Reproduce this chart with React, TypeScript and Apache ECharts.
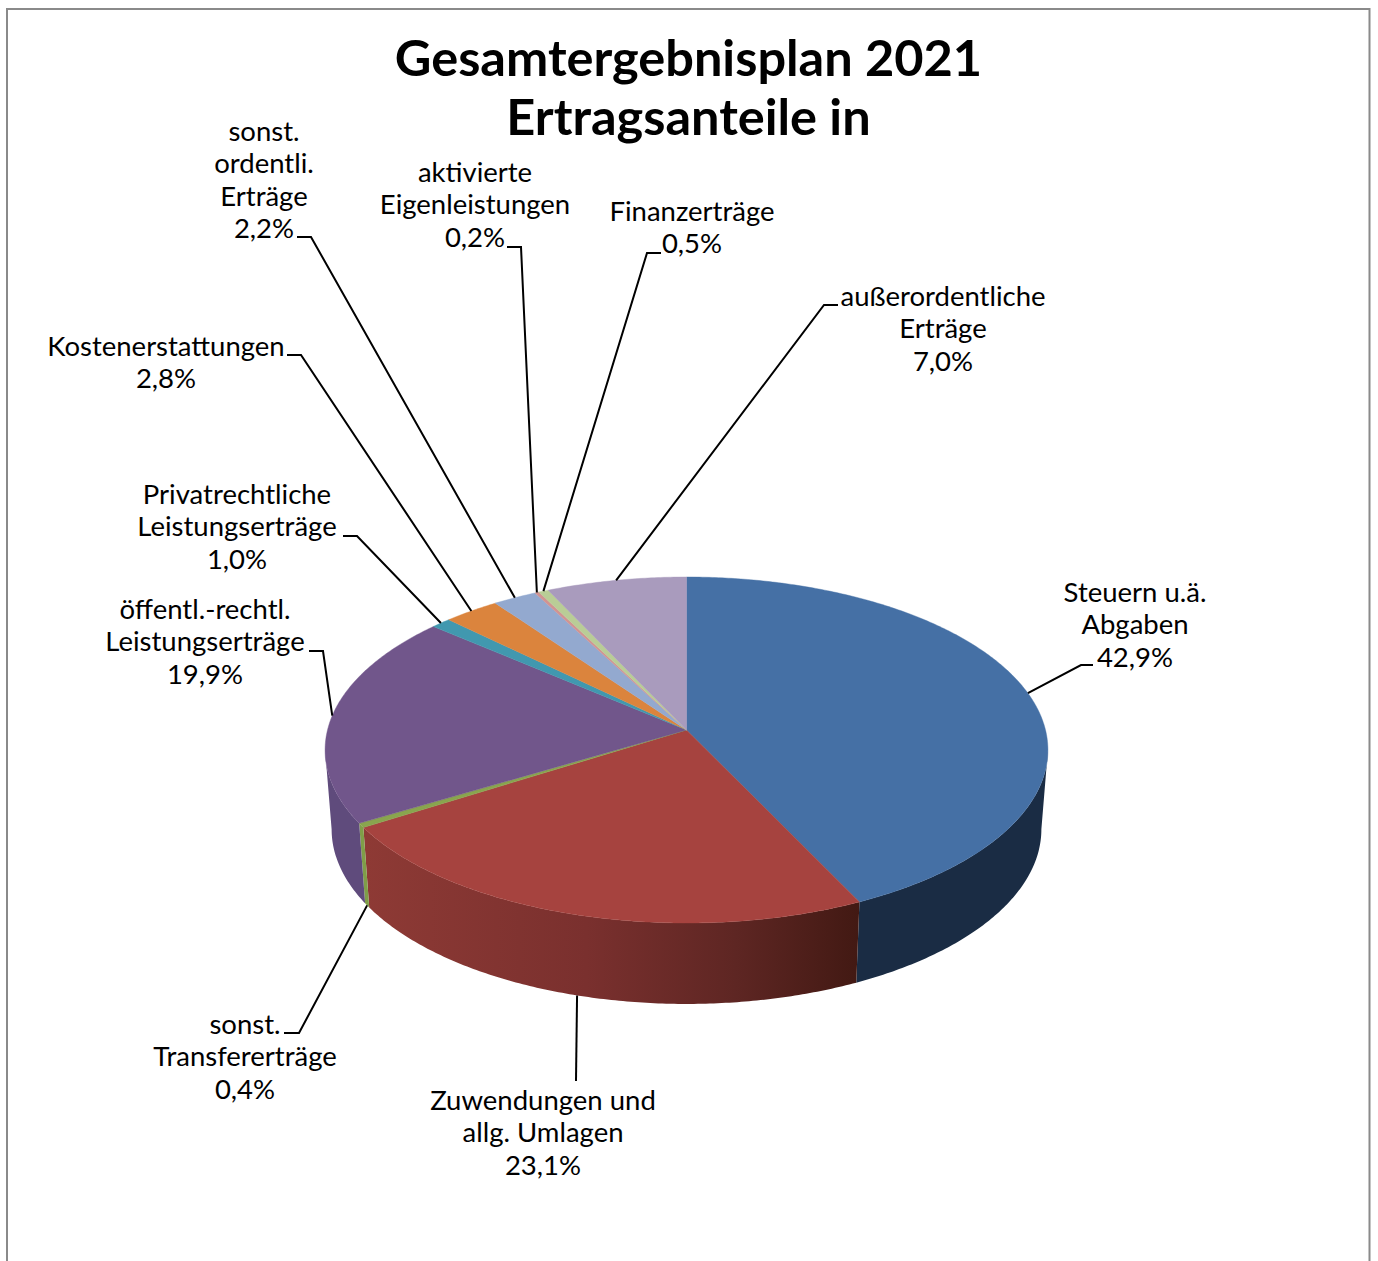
import React, { useEffect, useRef } from "react";
import * as echarts from "echarts";

const titleText = "Gesamtergebnisplan 2021\nErtragsanteile in";
const categories = [
  "Steuern u.ä.\nAbgaben",
  "Zuwendungen und\nallg. Umlagen",
  "sonst.\nTransfererträge",
  "öffentl.-rechtl.\nLeistungserträge",
  "Privatrechtliche\nLeistungserträge",
  "Kostenerstattungen",
  "sonst.\nordentli.\nErträge",
  "aktivierte\nEigenleistungen",
  "Finanzerträge",
  "außerordentliche\nErträge",
];
const shares = [42.9, 23.1, 0.4, 19.9, 1.0, 2.8, 2.2, 0.2, 0.5, 7.0];

const topColors = [
  "#4570A5", "#A6433F", "#89A54E", "#71568B", "#4198AF",
  "#DB843D", "#93A9CF", "#D19392", "#B9CD96", "#A99BBD",
];
const sideFills: Record<number, any> = {
  0: "#1A2C44",
  1: new echarts.graphic.LinearGradient(0, 0, 1, 0, [
    { offset: 0, color: "#8E3A35" },
    { offset: 0.45, color: "#7A302E" },
    { offset: 0.75, color: "#5E2623" },
    { offset: 1, color: "#421913" },
  ]),
  2: "#7F9E48",
  3: "#5F4B7C",
};

// Label layout: text centre and top of first line, then the leader's start and elbow.
const labelAnchors = [
  { x: 1135, y: 575 }, { x: 543, y: 1083 }, { x: 245, y: 1007 }, { x: 205, y: 592 }, { x: 237, y: 477 },
  { x: 166, y: 329 }, { x: 264, y: 114 }, { x: 475, y: 155 }, { x: 692, y: 194 }, { x: 943, y: 279 },
];
const leaderStarts = [
  [[1093, 665], [1081, 665]],
  [[576, 1081]],
  [[284, 1033], [299, 1033]],
  [[309, 651], [323, 651]],
  [[343, 536], [357, 536]],
  [[287, 355], [301, 355]],
  [[297, 237], [311, 237]],
  [[507, 247], [521, 247]],
  [[661, 253], [647, 253]],
  [[838, 305], [824, 305]],
];
const leaderOnBase = [false, true, true, false, false, false, false, false, false, false];

// Perspective projection of the pie's circular top and base faces.
const TILT = 0.1156;
const CX = 686.5;
const topFace = { cy: 730, rx: 359, ry: 170.7 };
const baseFace = { cy: 809, rx: 352.5, ry: 172.4 };
const project = (face: typeof topFace, theta: number) => {
  const u = Math.sin(theta);
  const v = Math.cos(theta);
  const w = 1 + TILT * v;
  return [CX + (face.rx * u) / w, face.cy - (face.ry * v) / w];
};
const arc = (face: typeof topFace, from: number, to: number) => {
  const steps = Math.max(2, Math.ceil(Math.abs(to - from) / 0.01));
  const pts: number[][] = [];
  for (let i = 0; i <= steps; i++) pts.push(project(face, from + ((to - from) * i) / steps));
  return pts;
};

// Side walls are only visible between the two silhouette tangents.
const VISIBLE_FROM = Math.acos(-TILT);
const VISIBLE_TO = 2 * Math.PI - VISIBLE_FROM;
const total = shares.reduce((a, b) => a + b, 0);
const startAngle = (i: number) =>
  (shares.slice(0, i).reduce((a, b) => a + b, 0) / total) * 2 * Math.PI;

const fontFamily = "Lato";

const renderSlice = (params: any, api: any) => {
  const i = params.dataIndex;
  const from = startAngle(i);
  const to = from + (api.value(0) / total) * 2 * Math.PI;
  const mid = (from + to) / 2;
  const children: any[] = [];

  const wallFrom = Math.max(from, VISIBLE_FROM);
  const wallTo = Math.min(to, VISIBLE_TO);
  if (wallTo > wallFrom && sideFills[i]) {
    children.push({
      type: "polygon",
      z2: 1,
      shape: { points: [...arc(topFace, wallFrom, wallTo), ...arc(baseFace, wallTo, wallFrom)] },
      style: { fill: sideFills[i] },
    });
  }

  children.push({
    type: "polygon",
    z2: 2,
    shape: { points: [[CX, topFace.cy], ...arc(topFace, from, to)] },
    style: { fill: topColors[i], stroke: topColors[i], lineWidth: 0.4 },
  });

  const end = project(leaderOnBase[i] ? baseFace : topFace, mid);
  children.push({
    type: "polyline",
    z2: 3,
    shape: { points: [...leaderStarts[i], end] },
    style: { fill: "none", stroke: "#000000", lineWidth: 2 },
  });

  children.push({
    type: "text",
    z2: 4,
    style: {
      text: `${categories[i]}\n${api.value(0).toFixed(1).replace(".", ",")}%`,
      x: labelAnchors[i].x,
      y: labelAnchors[i].y,
      align: "center",
      verticalAlign: "top",
      fill: "#000000",
      font: `400 27.5px ${fontFamily}`,
      lineHeight: 32.4,
    },
  });

  return { type: "group", children };
};

export default function App() {
  const ref = useRef<HTMLDivElement>(null);
  useEffect(() => {
    document.body.style.margin = "0";
    const chart = echarts.init(ref.current!, undefined, { renderer: "svg" });
    chart.setOption({
      animation: false,
      backgroundColor: "#ffffff",
      title: {
        text: titleText,
        left: 683.5,
        top: 22,
        textAlign: "center",
        textStyle: {
          fontFamily,
          fontSize: 50.5,
          fontWeight: 700,
          lineHeight: 59,
          color: "#000000",
        },
      },
      graphic: [
        {
          type: "polyline",
          silent: true,
          shape: { points: [[7, 1265], [7, 9], [1369.5, 9], [1369.5, 1265]] },
          style: { fill: "none", stroke: "#8A8A8A", lineWidth: 2 },
        },
      ],
      series: [
        {
          type: "custom",
          coordinateSystem: "none",
          silent: true,
          data: shares,
          renderItem: renderSlice,
        },
      ],
    });
    return () => chart.dispose();
  }, []);
  return (
    <div
      ref={ref}
      style={{ position: "absolute", left: 0, top: 0, width: 1378, height: 1261, overflow: "hidden" }}
    />
  );
}
